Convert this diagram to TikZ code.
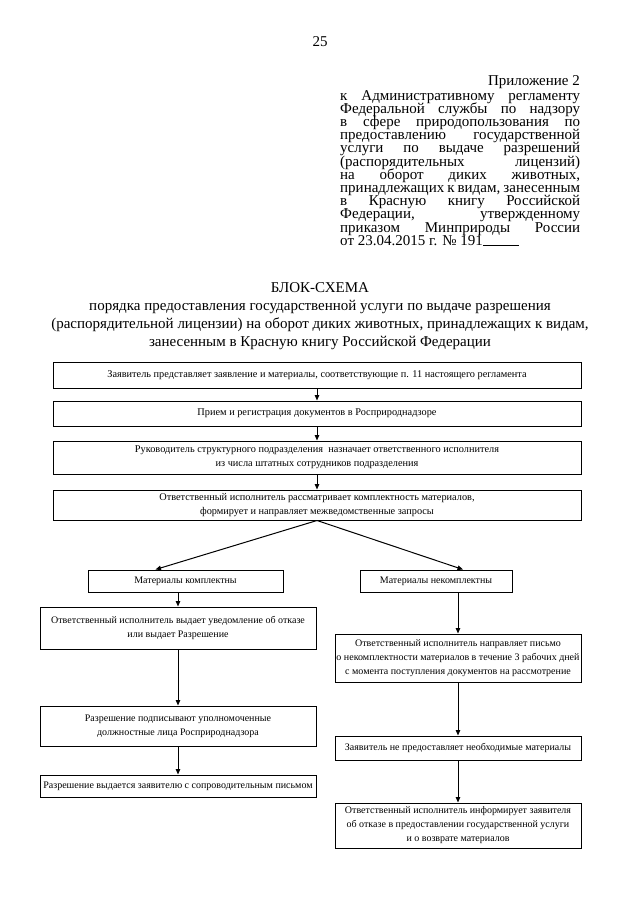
\documentclass[tikz,border=0pt]{standalone}
\usepackage{fontspec}
\setmainfont{Liberation Serif}
\usetikzlibrary{arrows.meta}
\tolerance=10000
\hyphenpenalty=10000
\begin{document}
\begin{tikzpicture}[x=1pt,y=-1pt,
  box/.style={draw,line width=1pt,rectangle,inner sep=0pt,align=center,font=\fontsize{10}{14}\selectfont},
  topbox/.style={box,minimum width=528pt,font=\fontsize{10.3}{14}\selectfont},
  arr/.style={-{Triangle[length=5.5pt,width=4.5pt]},line width=1pt}]
\useasboundingbox (0,0) rectangle (640,905);
\node (pnum) at (320,42) {\fontsize{15}{18}\selectfont 25};
\node[anchor=base east,inner sep=0pt,font=\fontsize{15}{13.3}\selectfont] (apx) at (580,85) {Приложение 2};
\node[anchor=north west,inner sep=0pt,text width=240pt,align=justify] (apxtxt) at (340,90)
  {\fontsize{15}{13.2}\selectfont\baselineskip=13.2pt\lineskiplimit=-20pt\lineskip=0pt\relax
   к Административному регламенту\linebreak
   Федеральной службы по надзору\linebreak
   в сфере природопользования по\linebreak
   предоставлению государственной\linebreak
   услуги по выдаче разрешений\linebreak
   (распорядительных лицензий)\linebreak
   на оборот диких животных,\linebreak
   принадлежащих к видам, занесенным\linebreak
   в Красную книгу Российской\linebreak
   Федерации, утвержденному\linebreak
   приказом Минприроды России\linebreak
   от 23.04.2015 г. №~191\rule{36pt}{0.6pt}\par};
\node[align=center,inner sep=0pt,anchor=north,font=\fontsize{15}{18}\selectfont] (ttl) at (320,282)
  {БЛОК-СХЕМА\\
   порядка предоставления государственной услуги по выдаче разрешения\\
   (распорядительной лицензии) на оборот диких животных, принадлежащих к видам,\\
   занесенным в Красную книгу Российской Федерации};
\node[topbox,minimum height=26pt] (b1) at (317,375)
  {Заявитель представляет заявление и материалы, соответствующие п. 11 настоящего регламента};
\node[topbox,minimum height=25pt] (b2) at (317,413.5)
  {Прием и регистрация документов в Росприроднадзоре};
\node[topbox,minimum height=33pt] (b3) at (317,457.5)
  {Руководитель структурного подразделения\ \ назначает ответственного исполнителя\\
   из числа штатных сотрудников подразделения};
\node[topbox,minimum height=30pt] (b4) at (317,505)
  {Ответственный исполнитель рассматривает комплектность материалов,\\
   формирует и направляет межведомственные запросы};
\node[box,minimum width=195pt,minimum height=22pt] (m1) at (185.5,581) {Материалы комплектны};
\node[box,minimum width=152pt,minimum height=22pt] (m2) at (436,581) {Материалы некомплектны};
\node[box,minimum width=276pt,minimum height=42pt] (a1) at (178,628)
  {Ответственный исполнитель выдает уведомление об отказе\\ или выдает Разрешение};
\node[box,minimum width=276pt,minimum height=40pt] (a2) at (178,726)
  {Разрешение подписывают уполномоченные\\ должностные лица Росприроднадзора};
\node[box,minimum width=276pt,minimum height=22pt] (a3) at (178,786)
  {Разрешение выдается заявителю с сопроводительным письмом};
\node[box,minimum width=246pt,minimum height=48pt] (r1) at (458,658)
  {Ответственный исполнитель направляет письмо\\
   о некомплектности материалов в течение 3 рабочих дней\\
   с момента поступления документов на рассмотрение};
\node[box,minimum width=246pt,minimum height=24pt] (r2) at (458,748)
  {Заявитель не предоставляет необходимые материалы};
\node[box,minimum width=246pt,minimum height=45pt] (r3) at (458,825.5)
  {Ответственный исполнитель информирует заявителя\\
   об отказе в предоставлении государственной услуги\\
   и о возврате материалов};
\draw[arr] (b1.south) -- (b2.north);
\draw[arr] (b2.south) -- (b3.north);
\draw[arr] (b3.south) -- (b4.north);
\draw[arr] (b4.south) -- ([xshift=-30pt]m1.north);
\draw[arr] (b4.south) -- ([xshift=27pt]m2.north);
\draw[arr] (m1.south -| a1.north) -- (a1.north);
\draw[arr] (a1.south) -- (a2.north);
\draw[arr] (a2.south) -- (a3.north);
\draw[arr] (m2.south -| r1.north) -- (r1.north);
\draw[arr] (r1.south) -- (r2.north);
\draw[arr] (r2.south) -- (r3.north);
\end{tikzpicture}
\end{document}
